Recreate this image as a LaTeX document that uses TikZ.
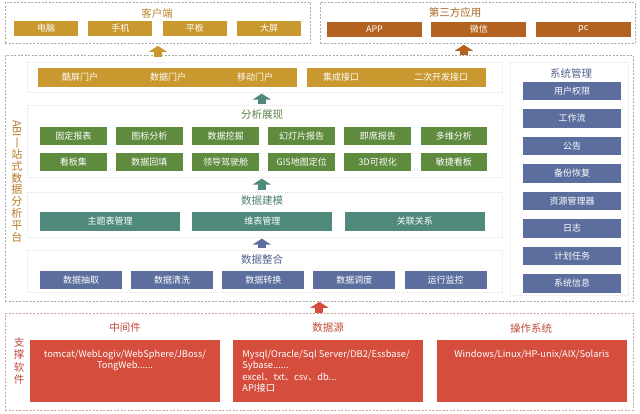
\documentclass[tikz,border=0pt]{standalone}
\usepackage{fontspec}
\setmainfont{Noto Sans CJK SC}
\usepackage{tikz}
\usetikzlibrary{positioning}
\usetikzlibrary{arrows.meta}
\usetikzlibrary{calc}

\definecolor{cgold}{HTML}{C9982F}
\definecolor{cbrown}{HTML}{B4621F}
\definecolor{cgreen}{HTML}{5E8B3E}
\definecolor{cteal}{HTML}{4F8A7D}
\definecolor{cslate}{HTML}{5B6E9E}
\definecolor{cred}{HTML}{D44D3D}
\definecolor{cgoldt}{HTML}{B8862A}
\definecolor{cbrownt}{HTML}{A8641E}
\definecolor{cgreent}{HTML}{5A7F4A}
\definecolor{ctealt}{HTML}{4F7F75}
\definecolor{cslatet}{HTML}{52618A}
\definecolor{credt}{HTML}{C04A3A}
\definecolor{cabi}{HTML}{B57A2A}
\definecolor{cdash}{HTML}{ABABAB}
\definecolor{credd}{HTML}{CFA3A3}
\definecolor{cpanel}{HTML}{E2E2E2}

\begin{document}
\begin{tikzpicture}[x=1pt, y=-1pt, inner sep=0pt, align=center,
    group/.style={draw=cdash, dash pattern=on 2pt off 1.5pt, line width=0.8pt, rectangle, anchor=north west},
    panel/.style={draw=cpanel, dash pattern=on 1pt off 1pt, line width=0.6pt, rectangle, anchor=north west},
    title/.style={font=\fontsize{10.5}{12}\selectfont},
    cell/.style={rectangle, text=white, font=\fontsize{9}{10}\selectfont},
    goldcell/.style={cell, fill=cgold, minimum width=64pt, minimum height=15pt},
    browncell/.style={cell, fill=cbrown, minimum width=95pt, minimum height=15pt},
    greencell/.style={cell, fill=cgreen, minimum width=66.7pt, minimum height=18.5pt},
    tealcell/.style={cell, fill=cteal, minimum width=140pt, minimum height=19pt},
    slatecell/.style={cell, fill=cslate, minimum width=82pt, minimum height=18pt},
    syscell/.style={cell, fill=cslate, minimum width=98pt, minimum height=18.5pt},
    redcell/.style={rectangle, fill=cred, minimum width=190pt, minimum height=62pt},
    boxtext/.style={text=white, font=\fontsize{9.3}{11.5}\selectfont},
    blockarrow/.style={-{Triangle[width=18pt,length=6pt]}, line width=8pt}]
    \useasboundingbox (0,0) rectangle (640,414);

    % client side
    \node[group, minimum width=305pt, minimum height=41pt] (client) at (5,2) {};
    \node[title, text=cgoldt] (clientt) at (157,13) {客户端};
    \node[goldcell] (computer) at (46,28.5) {电脑};
    \node[goldcell, right=10pt of computer] (phone) {手机};
    \node[goldcell, right=10pt of phone] (tablet) {平板};
    \node[goldcell, right=10pt of tablet] (screen) {大屏};

    % third party
    \node[group, minimum width=315pt, minimum height=41pt] (third) at (320,2) {};
    \node[title, text=cbrownt] (thirdt) at (455,13) {第三方应用};
    \node[browncell] (app) at (374.5,29.5) {APP};
    \node[browncell, right=9pt of app] (wechat) {微信};
    \node[browncell, right=9pt of wechat] (pcapp) {pc};

    % platform
    \node[group, minimum width=628pt, minimum height=246pt] (main) at (5,55) {};
    \node[font=\fontsize{11}{11.8}\selectfont, text=cabi, text width=12pt] (abi) at (17,181)
        {\rotatebox{-90}{ABI一}\\站\\式\\数\\据\\分\\析\\平\\台};

    \node[panel, minimum width=475pt, minimum height=30pt] (portp) at (27,62) {};
    \node[cell, fill=cgold, minimum width=259pt, minimum height=19pt] (portbar) at (167.5,77.5) {};
    \node[cell, fill=cgold, minimum width=179pt, minimum height=19pt, right=10pt of portbar] (apibar) {};
    \node[cell] (cool) at (80,77.5) {酷屏门户};
    \node[cell] (dataport) at (168,77.5) {数据门户};
    \node[cell] (mobile) at (255,77.5) {移动门户};
    \node[cell] (integ) at (341,77.5) {集成接口};
    \node[cell] (second) at (441,77.5) {二次开发接口};

    \node[panel, minimum width=475pt, minimum height=72pt] (anap) at (27,105) {};
    \node[title, text=cgreent] (anat) at (262,115) {分析展现};
    \node[greencell] (fixed) at (73.35,136) {固定报表};
    \node[greencell, right=9pt of fixed] (chart) {图标分析};
    \node[greencell, right=9pt of chart] (mining) {数据挖掘};
    \node[greencell, right=9pt of mining] (slides) {幻灯片报告};
    \node[greencell, right=9pt of slides] (adhoc) {即席报告};
    \node[greencell, right=9pt of adhoc] (multi) {多维分析};
    \node[greencell, below=7pt of fixed] (board) {看板集};
    \node[greencell, right=9pt of board] (backfill) {数据回填};
    \node[greencell, right=9pt of backfill] (cockpit) {领导驾驶舱};
    \node[greencell, right=9pt of cockpit] (gis) {GIS地图定位};
    \node[greencell, right=9pt of gis] (threed) {3D可视化};
    \node[greencell, right=9pt of threed] (agile) {敏捷看板};

    \node[panel, minimum width=475pt, minimum height=45pt] (modp) at (27,192) {};
    \node[title, text=ctealt] (modt) at (262,201) {数据建模};
    \node[tealcell] (theme) at (110,221.5) {主题表管理};
    \node[tealcell, right=12pt of theme] (dimension) {维表管理};
    \node[tealcell, right=12pt of dimension] (relation) {关联关系};

    \node[panel, minimum width=475pt, minimum height=42pt] (intp) at (27,250) {};
    \node[title, text=cslatet] (intt) at (262,260) {数据整合};
    \node[slatecell] (extract) at (81,280) {数据抽取};
    \node[slatecell, right=8.75pt of extract] (clean) {数据清洗};
    \node[slatecell, right=8.75pt of clean] (convert) {数据转换};
    \node[slatecell, right=8.75pt of convert] (dispatch) {数据调度};
    \node[slatecell, right=8.75pt of dispatch] (monitor) {运行监控};

    % system management
    \node[panel, minimum width=118pt, minimum height=233pt] (sysp) at (510,62) {};
    \node[title, text=cslatet] (syst) at (571,73) {系统管理};
    \node[syscell] (rights) at (572,91) {用户权限};
    \node[syscell, below=8.6pt of rights] (workflow) {工作流};
    \node[syscell, below=8.6pt of workflow] (notice) {公告};
    \node[syscell, below=8.6pt of notice] (backup) {备份恢复};
    \node[syscell, below=8.6pt of backup] (resource) {资源管理器};
    \node[syscell, below=8.6pt of resource] (logs) {日志};
    \node[syscell, below=8.6pt of logs] (plan) {计划任务};
    \node[syscell, below=8.6pt of plan] (sysinfo) {系统信息};

    % support software
    \node[group, draw=credd, minimum width=628pt, minimum height=97pt] (support) at (5,313) {};
    \node[font=\fontsize{10.5}{12.5}\selectfont, text=credt, text width=12pt] (supt) at (19,361) {支\\撑\\软\\件};
    \node[title, text=credt] (midt) at (125,328) {中间件};
    \node[title, text=credt] (dst) at (328,328) {数据源};
    \node[title, text=credt] (ost) at (531,328) {操作系统};
    \node[redcell] (middle) at (125,371) {};
    \node[redcell, right=13pt of middle] (datasrc) {};
    \node[redcell, right=13pt of datasrc] (ossys) {};
    \node[boxtext, below=10pt of middle.north] (midtext) {tomcat/WebLogiv/WebSphere/JBoss/\\TongWeb......};
    \node[boxtext, anchor=north west, align=left] (dstext) at ($(datasrc.north west)+(9,10)$)
        {Mysql/Oracle/Sql Server/DB2/Essbase/\\Sybase......\\excel、txt、csv、db...\\API接口};
    \node[boxtext, below=10pt of ossys.north] (ostext) {Windows/Linux/HP-unix/AIX/Solaris};

    % arrows
    \draw[blockarrow, draw=cgold] ($(main.north -| client.south)+(0,2)$) -- ($(client.south)+(0,2)$);
    \draw[blockarrow, draw=cbrown] ($(main.north -| third.south)+(-14,0)$) -- ($(third.south)+(-14,1)$);
    \draw[blockarrow, draw=cteal] ($(anap.north)+(-3,-1)$) -- ($(portp.south)+(-3,1)$);
    \draw[blockarrow, draw=cteal] ($(modp.north)+(-3,-2)$) -- ($(anap.south)+(-3,1)$);
    \draw[blockarrow, draw=cslate] ($(intp.north)+(-3,-2)$) -- ($(modp.south)+(-3,1)$);
    \draw[blockarrow, draw=cred] (support.north) -- (main.south);
\end{tikzpicture}
\end{document}
